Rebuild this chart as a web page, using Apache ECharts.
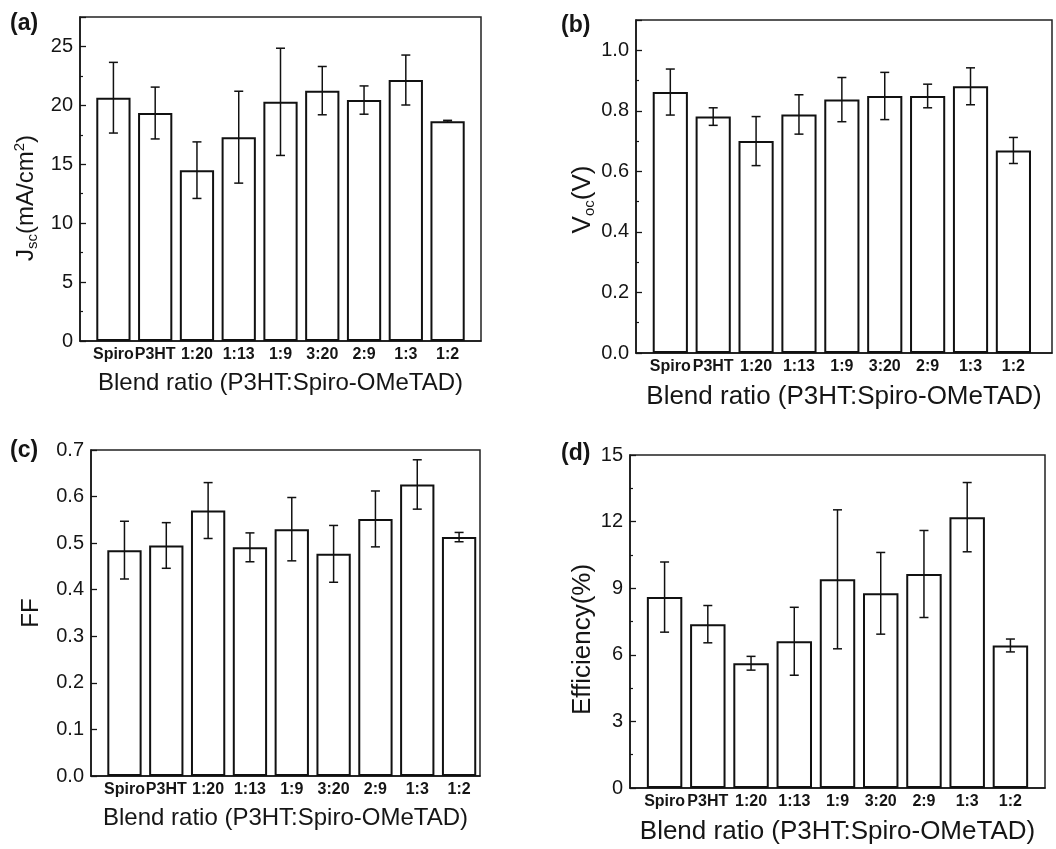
<!DOCTYPE html>
<html>
<head>
<meta charset="utf-8">
<script src="https://cdn.jsdelivr.net/npm/echarts@6/dist/echarts.min.js"></script>
<style>
  html, body { margin: 0; padding: 0; background: #fff; }
  #chart { width: 1056px; height: 849px; }
</style>
</head>
<body>
<div id="chart"></div>
<script>
// Blend ratios of P3HT:Spiro-OMeTAD used as the hole-transport layer
const categories = ['Spiro', 'P3HT', '1:20', '1:13', '1:9', '3:20', '2:9', '1:3', '1:2'];

// Short-circuit current density (mA/cm2): mean and standard deviation
const jscMean = [20.65, 19.35, 14.5, 17.3, 20.3, 21.25, 20.45, 22.15, 18.65];
const jscErr  = [3.0, 2.2, 2.4, 3.9, 4.55, 2.05, 1.2, 2.12, 0.08];

// Open-circuit voltage (V)
const vocMean = [0.862, 0.781, 0.700, 0.788, 0.837, 0.849, 0.849, 0.881, 0.669];
const vocErr  = [0.076, 0.029, 0.081, 0.065, 0.073, 0.078, 0.039, 0.061, 0.043];

// Fill factor
const ffMean = [0.485, 0.495, 0.570, 0.491, 0.530, 0.477, 0.552, 0.626, 0.513];
const ffErr  = [0.062, 0.049, 0.060, 0.031, 0.068, 0.061, 0.060, 0.053, 0.010];

// Power conversion efficiency (%)
const effMean = [8.6, 7.38, 5.62, 6.61, 9.4, 8.77, 9.64, 12.2, 6.42];
const effErr  = [1.58, 0.84, 0.31, 1.53, 3.13, 1.84, 1.96, 1.56, 0.29];

const xTitle = 'Blend ratio (P3HT:Spiro-OMeTAD)';
const FONT = '"Liberation Sans", Arial, Helvetica, sans-serif';
const INK = '#151515';

const panels = [
  { tag: '(a)', mean: jscMean, err: jscErr,
    grid: { left: 80, top: 17, width: 401, height: 324 },
    xMax: 9.8, yMax: 27.5, interval: 5, minor: 2, digits: 0, showMax: false,
    yName: '{m|J}{s|sc}{m|(mA/cm}{p|2}{m|)}', yGap: 40, yShift: 19, yFont: 24,
    xFont: 24, xGap: 30, tagPos: [10, 12] },
  { tag: '(b)', mean: vocMean, err: vocErr,
    grid: { left: 636, top: 20, width: 416, height: 333 },
    xMax: 9.9, yMax: 1.1, interval: 0.2, minor: 2, digits: 1, showMax: false,
    yName: '{m|V}{s|oc}{m|(V)}', yGap: 38, yShift: 13, yFont: 26,
    xFont: 26, xGap: 31, tagPos: [561, 14] },
  { tag: '(c)', mean: ffMean, err: ffErr,
    grid: { left: 91, top: 450, width: 389, height: 326 },
    xMax: 9.5, yMax: 0.7, interval: 0.1, minor: 0, digits: 1, showMax: true,
    yName: '{m|FF}', yGap: 46, yShift: 0, yFont: 24,
    xFont: 24, xGap: 30, tagPos: [10, 439] },
  { tag: '(d)', mean: effMean, err: effErr,
    grid: { left: 630, top: 455, width: 415, height: 333 },
    xMax: 9.8, yMax: 15, interval: 3, minor: 2, digits: 0, showMax: true,
    yName: '{m|Efficiency(%)}', yGap: 33, yShift: 18, yFont: 26,
    xFont: 26, xGap: 31, tagPos: [561, 442] }
];

const X_MIN = 0.2;
const BAR_FRACTION = 0.82;
const positions = categories.map((c, k) => k + 1);

const grids = [], xAxes = [], yAxes = [], series = [], graphics = [];

panels.forEach((p, i) => {
  grids.push(Object.assign({
    show: true, borderColor: '#222', borderWidth: 1.5, backgroundColor: 'transparent'
  }, p.grid));

  xAxes.push({
    type: 'value', gridIndex: i, min: X_MIN, max: p.xMax,
    axisLine: { show: true, onZero: false, lineStyle: { color: INK, width: 1.5 } },
    axisTick: { show: true, inside: true, length: 5, customValues: positions,
                lineStyle: { color: INK, width: 1.3 } },
    axisLabel: { customValues: positions, margin: 6,
                 formatter: v => categories[Math.round(v) - 1],
                 fontFamily: FONT, fontWeight: 'bold', fontSize: 16, color: INK },
    splitLine: { show: false },
    name: xTitle, nameLocation: 'middle', nameGap: p.xGap,
    nameTextStyle: { fontFamily: FONT, fontSize: p.xFont, color: INK }
  });

  yAxes.push({
    type: 'value', gridIndex: i, min: 0, max: p.yMax, interval: p.interval,
    axisLine: { show: true, lineStyle: { color: INK, width: 1.5 } },
    axisTick: { show: true, inside: true, length: 6, lineStyle: { color: INK, width: 1.3 } },
    minorTick: { show: p.minor > 0, splitNumber: p.minor || 5, length: 3,
                 lineStyle: { color: INK, width: 1.2 } },
    axisLabel: { fontFamily: FONT, fontSize: 20, color: INK, margin: 7,
                 showMaxLabel: p.showMax ? null : false,
                 formatter: v => v.toFixed(p.digits) },
    splitLine: { show: false },
    name: p.yName, nameLocation: 'middle', nameGap: p.yGap,
    nameTextStyle: {
      fontFamily: FONT, color: INK,
      // extra room on the reading-direction end pushes the rotated title downward
      padding: [0, p.yShift * 2, 0, 0],
      rich: {
        m: { fontFamily: FONT, fontSize: p.yFont, lineHeight: 28, color: INK },
        s: { fontFamily: FONT, fontSize: 15, lineHeight: 14, verticalAlign: 'bottom', color: INK },
        p: { fontFamily: FONT, fontSize: 15, lineHeight: 14, verticalAlign: 'top', color: INK }
      }
    }
  });

  const unitPx = p.grid.width / (p.xMax - X_MIN);

  series.push({
    type: 'bar', xAxisIndex: i, yAxisIndex: i, silent: true,
    barWidth: unitPx * BAR_FRACTION,
    itemStyle: { color: '#fff', borderColor: '#111', borderWidth: 2 },
    data: p.mean.map((v, k) => [positions[k], v]),
    z: 2
  });

  series.push({
    type: 'custom', xAxisIndex: i, yAxisIndex: i, silent: true, z: 5,
    encode: { x: 0, y: [1, 2] },
    data: p.mean.map((v, k) => [positions[k], v - p.err[k], v + p.err[k]]),
    renderItem: (params, api) => {
      const x = api.value(0);
      const lo = api.coord([x, api.value(1)]);
      const hi = api.coord([x, api.value(2)]);
      const cap = 4.5;
      const style = { stroke: '#111', lineWidth: 1.5, fill: null };
      return {
        type: 'group',
        children: [
          { type: 'line', shape: { x1: lo[0], y1: lo[1], x2: hi[0], y2: hi[1] }, style },
          { type: 'line', shape: { x1: hi[0] - cap, y1: hi[1], x2: hi[0] + cap, y2: hi[1] }, style },
          { type: 'line', shape: { x1: lo[0] - cap, y1: lo[1], x2: lo[0] + cap, y2: lo[1] }, style }
        ]
      };
    }
  });

  graphics.push({
    type: 'text', left: p.tagPos[0], top: p.tagPos[1],
    style: { text: p.tag, font: 'bold 23px ' + FONT, fill: INK }
  });
});

const chart = echarts.init(document.getElementById('chart'), null, { renderer: 'canvas' });
chart.setOption({
  animation: false,
  backgroundColor: '#fff',
  textStyle: { fontFamily: FONT },
  grid: grids,
  xAxis: xAxes,
  yAxis: yAxes,
  series: series,
  graphic: graphics
});
</script>
</body>
</html>
